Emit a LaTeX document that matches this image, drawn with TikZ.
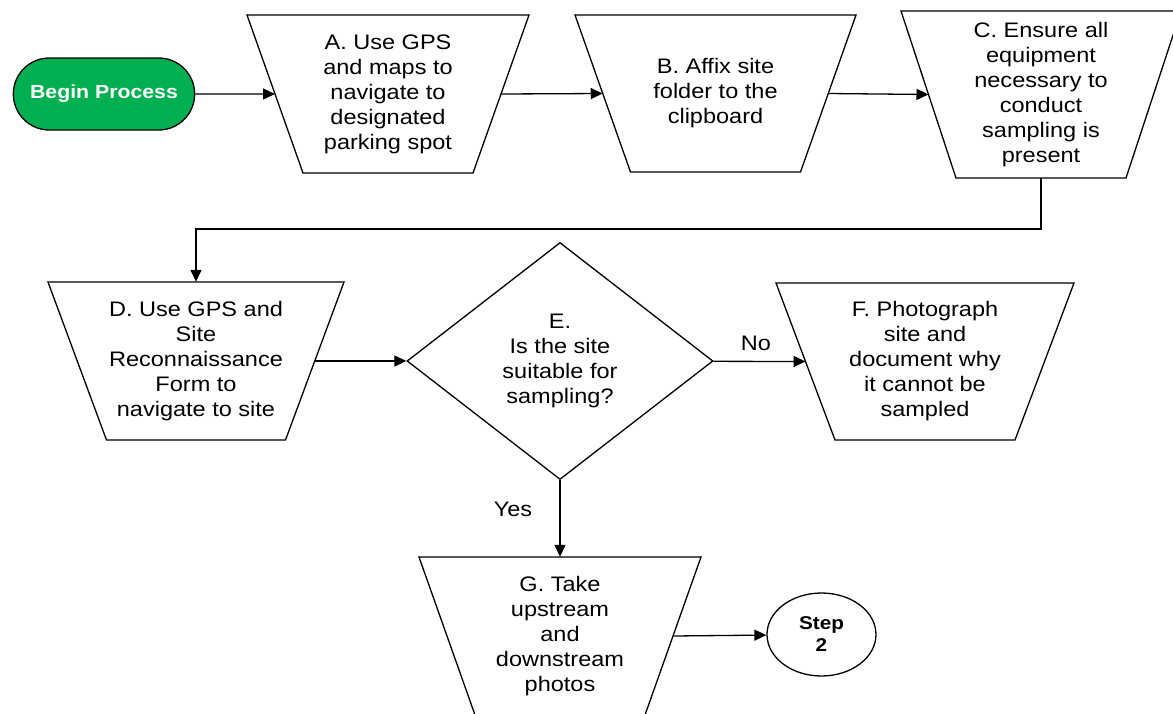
\documentclass[tikz,border=0pt]{standalone}
\usepackage{fontspec}
\setmainfont[FakeStretch=1.12]{Liberation Sans}
\usetikzlibrary{shapes.geometric,shapes.misc,arrows.meta}
\definecolor{procgreen}{RGB}{0,176,80}
% name, cx, cy, top half-width, bottom half-width, half-height, text
\newcommand{\trapnode}[7]{%
  \node[trtext, minimum width={(2*#4)*1pt}, minimum height={(2*#6)*1pt}] (#1) at (#2,#3) {#7};
  \draw[shapeline] ({#2-#4},{#3-#6}) -- ({#2+#4},{#3-#6}) -- ({#2+#5},{#3+#6})
     -- ({#2-#5},{#3+#6}) -- cycle;
  \coordinate (#1-l) at ({#2-(#4+#5)/2},#3);
  \coordinate (#1-r) at ({#2+(#4+#5)/2},#3);
}
\begin{document}
\begin{tikzpicture}[x=1pt,y=-1pt,
  every node/.style={font=\fontsize{21}{25}\selectfont, align=center, text=black},
  shapeline/.style={draw=black, line width=1.3pt, line join=miter},
  trtext/.style={inner sep=0pt},
  decision/.style={draw=black, line width=1.3pt, diamond, aspect=1.3, inner sep=1pt,
    minimum width=306pt, minimum height=237pt},
  startbox/.style={draw=black, line width=1.3pt, rounded rectangle, fill=procgreen,
    minimum width=188pt, minimum height=72pt, text=white,
    font=\fontsize{19}{23}\selectfont\bfseries},
  refcircle/.style={draw=black, line width=1.3pt, ellipse, inner sep=1pt,
    minimum width=109pt, minimum height=83pt, font=\fontsize{18.5}{22}\selectfont\bfseries},
  arr/.style={line width=1.3pt, -{Triangle[length=12pt,width=11pt]}},
  lbl/.style={inner sep=0pt}
]
\useasboundingbox (0,0) rectangle (1173,713);
\clip (0,0) rectangle (1173,713);

\node[startbox] (begin) at (104,94) {Begin Process};
\trapnode{A}{388}{94}{141}{85}{79}{A. Use GPS\\and maps to\\navigate to\\designated\\parking spot}
\trapnode{B}{715.5}{93.5}{140.5}{85}{78.5}{B. Affix site\\folder to the\\clipboard}
\trapnode{C}{1041}{94.5}{140}{85}{83.5}{C. Ensure all\\equipment\\necessary to\\conduct\\sampling is\\present}
\trapnode{D}{196}{361}{148}{89.5}{79}{D. Use GPS and\\Site\\Reconnaissance\\Form to\\navigate to site}
\node[decision] (E) at (560,361) {E.\\Is the site\\suitable for\\sampling?};
\trapnode{F}{925}{361.5}{149}{90}{78.5}{F. Photograph\\site and\\document why\\it cannot be\\sampled}
\trapnode{G}{560}{636}{141}{85}{79}{G. Take\\upstream\\and\\downstream\\photos}
\node[refcircle] (step) at (821.5,634.5) {Step\\2};

\coordinate (turn) at (600,229);

\draw[arr] (begin) -- (A-l);
\draw[arr] (A-r) -- (B-l);
\draw[arr] (B-r) -- (C-l);
\draw[arr] (C.south) |- (turn) -| (D.north);
\draw[arr] (D-r) -- (E);
\draw[arr] (E) -- (F-l);
\draw[arr] (E) -- (G.north);
\draw[arr] (G-r) -- (step);

\node[lbl] (no) at (756,343) {No};
\node[lbl] (yes) at (513,509) {Yes};
\end{tikzpicture}
\end{document}
